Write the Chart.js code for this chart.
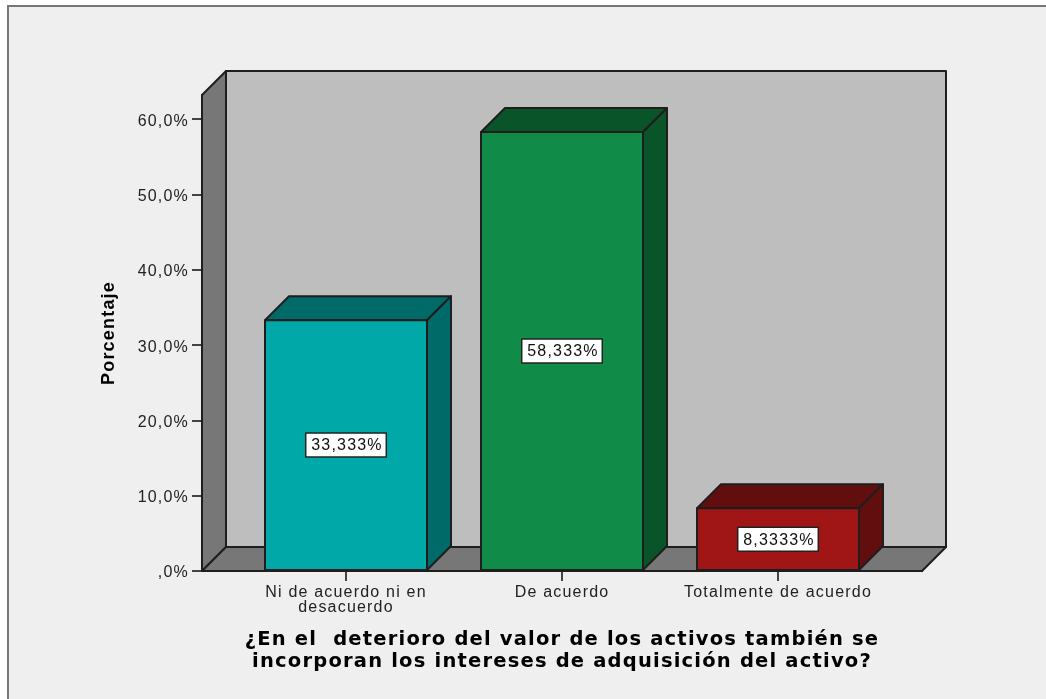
<!DOCTYPE html>
<html>
<head>
<meta charset="utf-8">
<title>Porcentaje</title>
<script src="https://cdn.jsdelivr.net/npm/chart.js@4"></script>
<style>
  html, body { margin: 0; padding: 0; background: #fff; }
  canvas { display: block; }
</style>
</head>
<body>
<canvas id="barChart" width="1046" height="699"></canvas>
<script>
const categories = [['Ni de acuerdo ni en', 'desacuerdo'], 'De acuerdo', 'Totalmente de acuerdo'];
const percentValues = [33.333, 58.333, 8.3333];
const valueLabels = ['33,333%', '58,333%', '8,3333%'];
const yTicks = [0, 10, 20, 30, 40, 50, 60];
const yTickLabels = [',0%', '10,0%', '20,0%', '30,0%', '40,0%', '50,0%', '60,0%'];
const frontColors = ['#00a8a8', '#108c48', '#a01515'];
const sideColors = ['#006a68', '#0a5429', '#620e0e'];
const xTitle = ['¿En el  deterioro del valor de los activos también se', 'incorporan los intereses de adquisición del activo?'];

const DEPTH = 24;
const EDGE = '#1e1e1e';
// the reference text is stretched sideways, spacing gets close to that
const TEXT_SPACING = '1.2px';

function poly(ctx, pts, fill) {
  ctx.beginPath();
  pts.forEach((p, i) => (i ? ctx.lineTo(p[0], p[1]) : ctx.moveTo(p[0], p[1])));
  ctx.closePath();
  ctx.fillStyle = fill;
  ctx.fill();
  ctx.lineWidth = 2;
  ctx.strokeStyle = EDGE;
  ctx.lineJoin = 'round';
  ctx.stroke();
}

// page frame and the 3D box behind the bars
const boxPlugin = {
  id: 'box',
  beforeUpdate(chart) {
    chart.ctx.letterSpacing = TEXT_SPACING;
  },
  beforeDraw(chart) {
    const ctx = chart.ctx;
    ctx.letterSpacing = TEXT_SPACING;
    ctx.save();
    ctx.fillStyle = '#efefef';
    ctx.fillRect(8, 6, chart.width - 8, chart.height - 6);
    ctx.fillStyle = '#777777';
    ctx.fillRect(7, 5, chart.width - 7, 2);
    ctx.fillRect(7, 5, 2, chart.height - 5);
    ctx.restore();
  },
  beforeDatasetsDraw(chart) {
    const ctx = chart.ctx;
    const a = chart.chartArea;
    const d = DEPTH;
    ctx.save();
    poly(ctx, [[a.left + d, a.top - d], [a.right + d, a.top - d], [a.right + d, a.bottom - d], [a.left + d, a.bottom - d]], '#bebebe');
    poly(ctx, [[a.left, a.top], [a.left + d, a.top - d], [a.left + d, a.bottom - d], [a.left, a.bottom]], '#777777');
    poly(ctx, [[a.left, a.bottom], [a.left + d, a.bottom - d], [a.right + d, a.bottom - d], [a.right, a.bottom]], '#777777');
    ctx.restore();
  },
  afterDatasetsDraw(chart) {
    const ctx = chart.ctx;
    const d = DEPTH;
    ctx.save();
    chart.getDatasetMeta(0).data.forEach((bar, i) => {
      const l = bar.x - bar.width / 2;
      const r = bar.x + bar.width / 2;
      poly(ctx, [[l, bar.y], [l + d, bar.y - d], [r + d, bar.y - d], [r, bar.y]], sideColors[i]);
      poly(ctx, [[r, bar.y], [r + d, bar.y - d], [r + d, bar.base - d], [r, bar.base]], sideColors[i]);
      poly(ctx, [[l, bar.y], [r, bar.y], [r, bar.base], [l, bar.base]], frontColors[i]);
    });
    // value labels
    ctx.font = '16px "Liberation Sans"';
    ctx.textAlign = 'center';
    ctx.textBaseline = 'middle';
    chart.getDatasetMeta(0).data.forEach((bar, i) => {
      const cy = (bar.y + bar.base) / 2;
      const w = ctx.measureText(valueLabels[i]).width + 9;
      ctx.fillStyle = '#ffffff';
      ctx.fillRect(bar.x - w / 2, cy - 12, w, 24);
      ctx.lineWidth = 1.5;
      ctx.strokeStyle = '#222222';
      ctx.strokeRect(bar.x - w / 2, cy - 12, w, 24);
      ctx.fillStyle = '#111111';
      ctx.fillText(valueLabels[i], bar.x + 1, cy + 1);
    });
    ctx.restore();
  }
};

new Chart(document.getElementById('barChart').getContext('2d'), {
  type: 'bar',
  data: {
    datasets: [{
      data: percentValues.map((v, i) => ({ x: i, y: v })),
      backgroundColor: 'rgba(0,0,0,0)',
      barThickness: 162
    }]
  },
  options: {
    responsive: false,
    animation: false,
    layout: { padding: { top: 95, right: 124, left: 0, bottom: 0 } },
    plugins: { legend: { display: false }, tooltip: { enabled: false } },
    scales: {
      x: {
        type: 'linear',
        offset: false,
        min: -2 / 3,
        max: 8 / 3,
        afterBuildTicks(scale) { scale.ticks = categories.map((c, i) => ({ value: i })); },
        afterFit(scale) { scale.height = 128; },
        grid: { offset: false, drawOnChartArea: false, tickLength: 10, color: '#444444', lineWidth: 2 },
        border: { color: '#222222', width: 2 },
        ticks: {
          autoSkip: false,
          maxRotation: 0,
          padding: 5,
          color: '#222222',
          font: { family: 'Liberation Sans', size: 16, lineHeight: 0.88 },
          callback: (v) => categories[v]
        },
        title: {
          display: true,
          text: xTitle,
          color: '#000000',
          font: { family: 'DejaVu Sans', size: 19.5, weight: 'bold', lineHeight: 1.08 },
          padding: { top: 0, bottom: 27 }
        }
      },
      y: {
        min: 0,
        max: 476 / 7.525,
        afterBuildTicks(scale) { scale.ticks = yTicks.map((v) => ({ value: v })); },
        afterFit(scale) { scale.width = 202; },
        grid: { drawOnChartArea: false, tickLength: 10, color: '#444444', lineWidth: 2 },
        border: { color: '#222222', width: 2 },
        ticks: {
          padding: 3,
          labelOffset: 2,
          color: '#222222',
          font: { family: 'Liberation Sans', size: 16 },
          callback: (v) => yTickLabels[yTicks.indexOf(v)]
        },
        title: {
          display: true,
          text: 'Porcentaje',
          color: '#000000',
          font: { family: 'Liberation Sans', size: 18, weight: 'bold' },
          padding: { top: 98, bottom: 0 }
        }
      }
    }
  },
  plugins: [boxPlugin]
});
</script>
</body>
</html>
